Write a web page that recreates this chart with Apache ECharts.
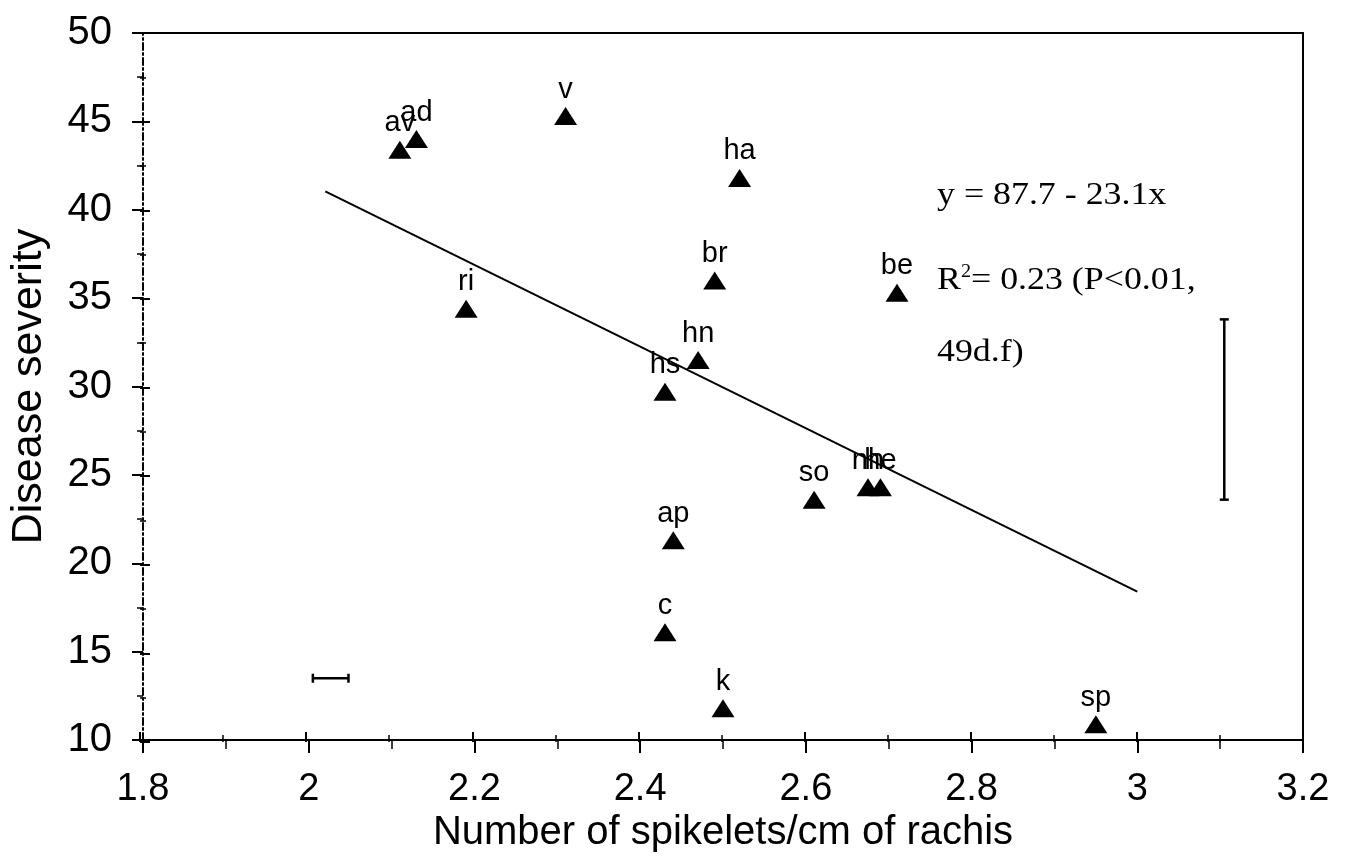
<!DOCTYPE html>
<html>
<head>
<meta charset="utf-8">
<title>Disease severity vs spikelet density</title>
<script src="https://cdn.jsdelivr.net/npm/echarts@6/dist/echarts.min.js"></script>
<style>
  html, body { margin: 0; padding: 0; background: #ffffff; }
  #chart { width: 1345px; height: 858px; }
</style>
</head>
<body>
<div id="chart"></div>
<script>
// Genotype codes and their measurements
const genotypes = ['av', 'ad', 'v', 'ha', 'br', 'ri', 'be', 'hn', 'hs', 'so', 'nh', 'he', 'ap', 'c', 'k', 'sp'];
const spikeletsPerCm = [2.11, 2.13, 2.31, 2.52, 2.49, 2.19, 2.71, 2.47, 2.43, 2.61, 2.675, 2.69, 2.44, 2.43, 2.50, 2.95];
const diseaseSeverity = [43.4, 44.0, 45.3, 41.8, 36.0, 34.4, 35.3, 31.5, 29.7, 23.6, 24.3, 24.3, 21.3, 16.1, 11.8, 10.9];

// Fitted regression: y = 87.7 - 23.1x, drawn over this x span
const fitIntercept = 87.7;
const fitSlope = -23.1;
const fitRangeX = [2.02, 3.0];

// Least significant difference bars: [x1, y1, x2, y2]
const lsdX = [2.005, 13.5, 2.048, 13.5];
const lsdY = [3.105, 23.6, 3.105, 33.8];

// Axis ranges
const xRange = [1.8, 3.2, 0.2];
const yRange = [10, 50, 5];

const fitLine = fitRangeX.map(x => [x, fitIntercept + fitSlope * x]);
const points = genotypes.map((g, i) => ({ name: g, value: [spikeletsPerCm[i], diseaseSeverity[i]] }));

const sans = '"Liberation Sans", Arial, sans-serif';
const serif = '"Liberation Serif", "Times New Roman", serif';
const ink = '#000';

const chart = echarts.init(document.getElementById('chart'), null, { renderer: 'canvas' });

const hidden = { show: false };
const plotBox = { left: 140, right: 42, top: 33, bottom: 116, containLabel: false };
const baseX = {
  type: 'value', min: xRange[0], max: xRange[1], interval: xRange[2], splitLine: hidden
};
const baseY = {
  type: 'value', min: yRange[0], max: yRange[1], interval: yRange[2], splitLine: hidden
};

chart.setOption({
  backgroundColor: '#ffffff',
  animation: false,
  // second grid overlays the first and carries the inner halves of the crossing ticks
  grid: [Object.assign({}, plotBox), Object.assign({}, plotBox)],
  xAxis: [
    Object.assign({}, baseX, {
      gridIndex: 0,
      position: 'bottom',
      name: 'Number of spikelets/cm of rachis',
      nameLocation: 'middle',
      nameGap: 62,
      nameTextStyle: { fontFamily: sans, fontSize: 40, color: ink },
      axisLine: { show: true, onZero: false, lineStyle: { color: ink, width: 2 } },
      axisTick: { show: true, inside: false, length: 13, lineStyle: { color: ink, width: 2 } },
      minorTick: { show: true, splitNumber: 2, length: 9, lineStyle: { color: ink, width: 1.5 } },
      axisLabel: {
        margin: 30, fontFamily: sans, fontSize: 38, color: ink,
        formatter: v => String(Math.round(v * 10) / 10)
      }
    }),
    // frame along the top
    Object.assign({}, baseX, {
      gridIndex: 0,
      position: 'top',
      axisLine: { show: true, onZero: false, lineStyle: { color: ink, width: 2 } },
      axisTick: hidden, axisLabel: hidden
    }),
    Object.assign({}, baseX, {
      gridIndex: 1,
      position: 'bottom',
      axisLine: hidden,
      axisTick: { show: true, inside: true, length: 10, lineStyle: { color: ink, width: 2 } },
      minorTick: { show: true, splitNumber: 2, length: 7, lineStyle: { color: ink, width: 1.5 } },
      axisLabel: hidden
    })
  ],
  yAxis: [
    Object.assign({}, baseY, {
      gridIndex: 0,
      position: 'left',
      name: 'Disease severity',
      nameLocation: 'middle',
      nameGap: 92,
      nameTextStyle: { fontFamily: sans, fontSize: 43, color: ink },
      axisLine: { show: true, onZero: false, lineStyle: { color: ink, width: 2, type: [7, 3, 2, 3] } },
      axisTick: { show: true, inside: false, length: 11, lineStyle: { color: ink, width: 2 } },
      minorTick: { show: true, splitNumber: 2, length: 6, lineStyle: { color: ink, width: 1.5 } },
      axisLabel: { margin: 31, fontFamily: sans, fontSize: 40, color: ink }
    }),
    // frame along the right
    Object.assign({}, baseY, {
      gridIndex: 0,
      position: 'right',
      axisLine: { show: true, onZero: false, lineStyle: { color: ink, width: 2 } },
      axisTick: hidden, axisLabel: hidden
    }),
    Object.assign({}, baseY, {
      gridIndex: 1,
      position: 'left',
      axisLine: hidden,
      axisTick: { show: true, inside: true, length: 10, lineStyle: { color: ink, width: 2 } },
      minorTick: { show: true, splitNumber: 2, length: 6, lineStyle: { color: ink, width: 1.5 } },
      axisLabel: hidden
    })
  ],
  series: [
    {
      name: 'Regression',
      type: 'line',
      xAxisIndex: 0, yAxisIndex: 0,
      data: fitLine,
      showSymbol: false,
      symbol: 'none',
      lineStyle: { color: ink, width: 2 },
      z: 2
    },
    {
      name: 'LSD',
      type: 'custom',
      xAxisIndex: 0, yAxisIndex: 0,
      data: [lsdX, lsdY],
      renderItem: function (params, api) {
        const p1 = api.coord([api.value(0), api.value(1)]);
        const p2 = api.coord([api.value(2), api.value(3)]);
        const vertical = Math.abs(p1[0] - p2[0]) < Math.abs(p1[1] - p2[1]);
        const cap = 4.5;
        const style = { stroke: ink, lineWidth: 2.5 };
        const capLine = p => vertical
          ? { x1: p[0] - cap, y1: p[1], x2: p[0] + cap, y2: p[1] }
          : { x1: p[0], y1: p[1] - cap, x2: p[0], y2: p[1] + cap };
        return {
          type: 'group',
          children: [
            { type: 'line', shape: { x1: p1[0], y1: p1[1], x2: p2[0], y2: p2[1] }, style: style },
            { type: 'line', shape: capLine(p1), style: style },
            { type: 'line', shape: capLine(p2), style: style }
          ]
        };
      },
      z: 2
    },
    {
      name: 'Genotypes',
      type: 'scatter',
      xAxisIndex: 0, yAxisIndex: 0,
      data: points,
      symbol: 'triangle',
      symbolSize: [23, 18],
      itemStyle: { color: '#000', opacity: 1 },
      label: {
        show: true,
        position: 'top',
        distance: 3,
        formatter: '{b}',
        fontFamily: sans,
        fontSize: 29,
        color: '#000'
      },
      labelLayout: { hideOverlap: false },
      z: 3
    }
  ],
  graphic: [
    {
      type: 'text', left: 937, top: 180, scaleX: 1.12,
      style: { text: 'y = 87.7 - 23.1x', font: '32px ' + serif, fill: ink }
    },
    {
      type: 'text', left: 937, top: 263, scaleX: 1.12,
      style: {
        text: '{r|R}{s|2}{r|= 0.23 (P<0.01,}',
        rich: {
          r: { font: '32px ' + serif, fill: ink, verticalAlign: 'bottom' },
          s: { font: '18px ' + serif, fill: ink, verticalAlign: 'top', padding: [0, 0, 16, 0] }
        }
      }
    },
    {
      type: 'text', left: 937, top: 337, scaleX: 1.12,
      style: { text: '49d.f)', font: '32px ' + serif, fill: ink }
    }
  ]
});
</script>
</body>
</html>
